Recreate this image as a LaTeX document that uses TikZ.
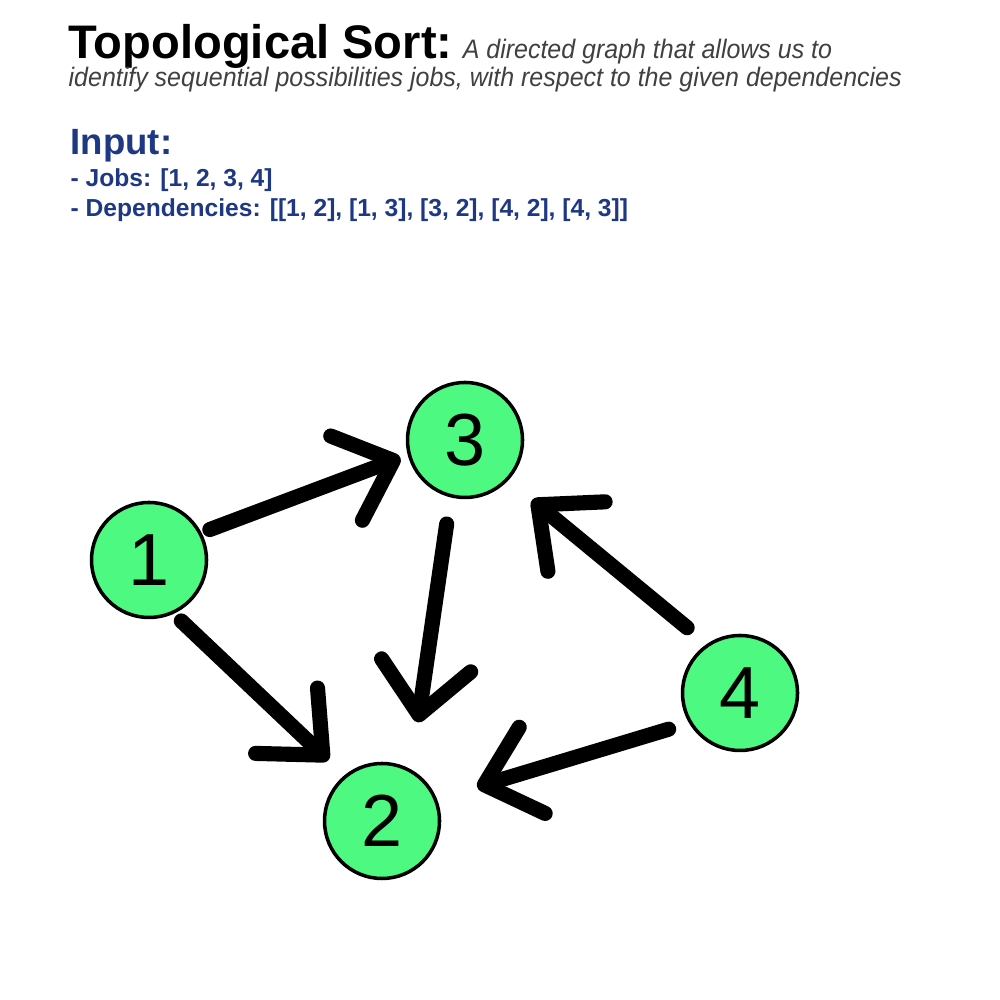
\documentclass[tikz,border=0pt]{standalone}
\usepackage{fontspec}
\setmainfont{Liberation Sans}
\newfontfamily\narrowfont[FakeStretch=0.935]{Liberation Sans}
\usetikzlibrary{arrows.meta}

\definecolor{jobgreen}{RGB}{77,249,128}
\definecolor{inputblue}{RGB}{30,56,132}
\definecolor{notegray}{RGB}{64,64,64}

\begin{document}
\begin{tikzpicture}

\fill[white] (0,0) rectangle (10,10);
\useasboundingbox (0,0) rectangle (10,10);

% Title and description of the problem
\tikzstyle{every node}=[inner sep=0pt,anchor=base west];
\node (title) at (0.68,9.41) {\fontsize{13.4}{16}\selectfont\bfseries Topological Sort:};
\node[text=notegray] (desc1) at ([xshift=0.09cm]title.base east) {\fontsize{7.6}{9}\narrowfont\itshape A directed graph that allows us to};
\node[text=notegray] (desc2) at (0.68,9.13) {\fontsize{7.6}{9}\narrowfont\itshape identify sequential possibilities jobs, with respect to the given dependencies};

% The input of the example
\tikzstyle{every node}=[inner sep=0pt,anchor=base west,text=inputblue,font=\bfseries];
\node (input) at (0.70,8.45) {\fontsize{10.4}{12}\selectfont Input:};
\node (jobs) at (0.70,8.13) {\fontsize{7.0}{9}\selectfont - Jobs: [1, 2, 3, 4]};
\node (deps) at (0.70,7.83) {\fontsize{7.0}{9}\selectfont - Dependencies: [[1, 2], [1, 3], [3, 2], [4, 2], [4, 3]]};

% Draw the jobs
\tikzstyle{every node}=[draw,line width=1pt,shape=circle,fill=jobgreen,minimum size=1.15cm,inner sep=0pt,anchor=center,font=\fontsize{21}{21}\selectfont];
\foreach \x/\y [count=\idx] in {1.49/4.40, 3.82/1.79, 4.65/5.60, 7.40/3.07}
  \node (n\idx) at (\x,\y) {\idx};

% Draw the dependencies between the jobs
\foreach \a/\b/\sa/\sd/\ta/\td in {1/3/26.6/0.68/195.5/0.67, 1/2/297.9/0.69/131.5/0.81, 3/2/257.7/0.86/70/1.05, 4/3/129/0.84/318.2/0.90, 4/2/206.9/0.80/19.7/1.01}
  \draw[line width=4.3pt,line cap=round,-{Straight Barb[round,length=5mm,width=9mm]}]
    ([shift={(\sa:\sd)}]n\a.center) -- ([shift={(\ta:\td)}]n\b.center);

\end{tikzpicture}
\end{document}
